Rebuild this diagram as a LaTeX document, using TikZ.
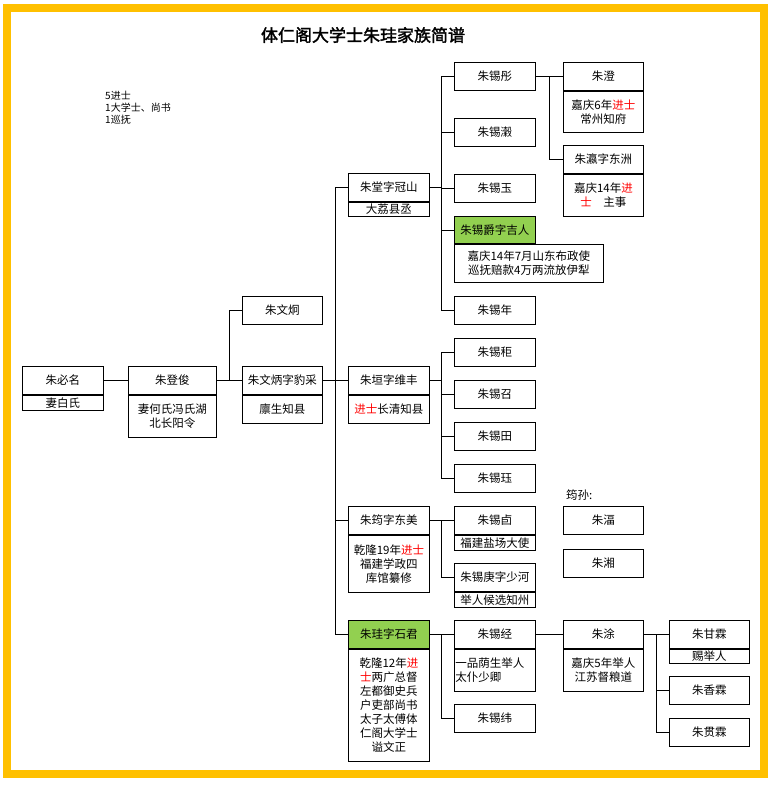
\documentclass[tikz,border=0pt]{standalone}
\usepackage{fontspec}
\setmainfont{Noto Sans CJK SC}
\newfontfamily\cjkb[FakeBold=2]{Noto Sans CJK SC}
\definecolor{frame}{HTML}{FFC000}
\definecolor{leaf}{HTML}{92D050}
\newcommand{\rd}[1]{\textcolor{red}{#1}}
\newcommand{\bx}[7][]{\node[bx,#1,minimum width=#5pt,minimum height=#6pt,text width=#5pt-2pt] (#2) at (#3,#4) {#7};}
\newcommand{\sbx}[6][]{\node[bx,#1,minimum width=#4pt,minimum height=#5pt,text width=#4pt-2pt] (#2) at (#3.south west) {#6};}
\begin{document}
\begin{tikzpicture}[x=1pt,y=-1pt,
  bx/.style={draw,anchor=north west,inner sep=0pt,align=center,font=\fontsize{11.5}{14}\selectfont,line width=0.8pt},
  ln/.style={line width=0.8pt}]
\useasboundingbox (0,0) rectangle (771,808);
\fill[white] (0,0) rectangle (771,808);
\draw[frame,line width=8pt] (7,8) rectangle (764,774);
\node[font=\cjkb\fontsize{17}{20}\selectfont] (title) at (363,35) {体仁阁大学士朱珪家族简谱};
\node[anchor=north west,align=left,inner sep=0pt,font=\fontsize{10}{12}\selectfont] (note) at (105,91) {5进士\\1大学士、尚书\\1巡抚};
% column 1-2
\bx{bi}{22}{366}{81}{28}{朱必名}
\sbx{bis}{bi}{81}{15}{妻白氏}
\bx{deng}{128}{366}{88}{28}{朱登俊}
\sbx{dengs}{deng}{88}{42}{妻何氏冯氏湖\\北长阳令}
\bx{jiong}{242}{296}{80}{28}{朱文炯}
\bx{bing}{242}{366}{80}{28}{朱文炳字豹采}
\sbx{bings}{bing}{80}{28}{廪生知县}
% column 3
\bx{tang}{348}{173}{81}{28}{朱堂字冠山}
\sbx{tangs}{tang}{81}{14}{大荔县丞}
\bx{yuan}{348}{366}{81}{28}{朱垣字维丰}
\sbx{yuans}{yuan}{81}{28}{\rd{进士}长清知县}
\bx{yun}{348}{506}{81}{28}{朱筠字东美}
\sbx{yuns}{yun}{81}{57}{乾隆19年\rd{进士}\\福建学政四\\库馆纂修}
\bx[fill=leaf]{gui}{348}{620}{81}{28}{朱珪字石君}
\sbx{guis}{gui}{81}{112}{乾隆12年\rd{进}\\\rd{士}两广总督\\左都御史兵\\户吏部尚书\\太子太傅体\\仁阁大学士\\谥文正}
% column 4
\bx{xt}{454}{62}{81}{28}{朱锡彤}
\bx{xg}{454}{118}{81}{28}{朱锡瀔}
\bx{xy}{454}{174}{81}{28}{朱锡玉}
\bx[fill=leaf]{xj}{454}{216}{81}{27}{朱锡爵字吉人}
\sbx{xjs}{xj}{149}{38}{嘉庆14年7月山东布政使\\巡抚赔款4万两流放伊犁}
\bx{xn}{454}{296}{81}{28}{朱锡年}
\bx{xju}{454}{338}{81}{28}{朱锡秬}
\bx{xz}{454}{380}{81}{28}{朱锡召}
\bx{xti}{454}{422}{81}{28}{朱锡田}
\bx{xjue}{454}{464}{81}{28}{朱锡珏}
\bx{xyou}{454}{506}{81}{28}{朱锡卣}
\sbx{xyous}{xyou}{81}{15}{福建盐场大使}
\bx{xge}{454}{563}{81}{28}{朱锡庚字少河}
\sbx{xges}{xge}{81}{15}{举人候选知州}
\bx{xjing}{454}{620}{81}{28}{朱锡经}
\sbx[align=left]{xjings}{xjing}{81}{42}{一品荫生举人\\太仆少卿}
\bx{xw}{454}{704}{81}{28}{朱锡纬}
% column 5
\bx{cheng}{563}{62}{80}{28}{朱澄}
\sbx{chengs}{cheng}{80}{41}{嘉庆6年\rd{进士}\\常州知府}
\bx{ying}{563}{145}{80}{28}{朱瀛字东洲}
\sbx{yings}{ying}{80}{42}{嘉庆14年\rd{进}\\\rd{士}\quad 主事}
\node[anchor=north west,inner sep=0pt,font=\fontsize{11.5}{14}\selectfont] (yunsun) at (566,490) {筠孙:};
\bx{bi2}{563}{506}{80}{28}{朱湢}
\bx{xiang}{563}{549}{80}{28}{朱湘}
\bx{tu}{563}{620}{80}{28}{朱涂}
\sbx{tus}{tu}{80}{42}{嘉庆5年举人\\江苏督粮道}
% column 6
\bx{gan}{669}{620}{80}{28}{朱甘霖}
\sbx{gans}{gan}{80}{14}{赐举人}
\bx{xl}{669}{676}{80}{28}{朱香霖}
\bx{gl}{669}{718}{80}{28}{朱贯霖}
% connectors
\draw[ln] (bi.east) -- (deng.west);
\draw[ln] (deng.east) -- (bing.west);
\draw[ln] (deng.east) -- ++(13,0) |- (jiong.west);
\draw[ln] (bing.east) -- (yuan.west);
\foreach \t in {tang,yun,gui} \draw[ln] (bing.east) -- ++(13,0) |- (\t.west);
\foreach \t in {xt,xg,xy,xj,xn} \draw[ln] (tang.east) -- ++(12,0) |- (\t.west);
\foreach \t in {xju,xz,xti,xjue} \draw[ln] (yuan.east) -- ++(12,0) |- (\t.west);
\foreach \t in {xyou,xge} \draw[ln] (yun.east) -- ++(12,0) |- (\t.west);
\foreach \t in {xjing,xw} \draw[ln] (gui.east) -- ++(12,0) |- (\t.west);
\foreach \t in {cheng,ying} \draw[ln] (xt.east) -- ++(14,0) |- (\t.west);
\draw[ln] (xjing.east) -- (tu.west);
\foreach \t in {gan,xl,gl} \draw[ln] (tu.east) -- ++(13,0) |- (\t.west);
\end{tikzpicture}
\end{document}
